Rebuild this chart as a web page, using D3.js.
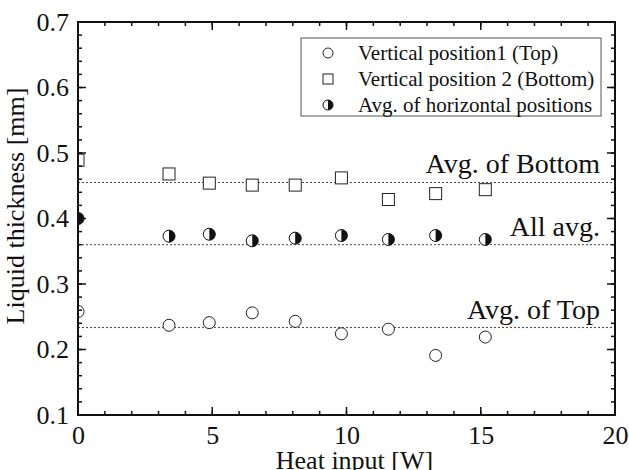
<!DOCTYPE html>
<html>
<head>
<meta charset="utf-8">
<script src="https://cdn.jsdelivr.net/npm/d3@7"></script>
<style>
  body { margin: 0; background: #fff; }
  svg text { font-family: "Liberation Serif", "Times New Roman", "DejaVu Serif", serif; }
</style>
</head>
<body>
<svg width="629" height="470"></svg>
<script>
// heat input [W]
var heat = [0, 3.39, 4.89, 6.49, 8.09, 9.81, 11.56, 13.32, 15.17];
// liquid thickness [mm]
var topVals = [0.258, 0.237, 0.241, 0.256, 0.243, 0.224, 0.231, 0.191, 0.219];
var bottomVals = [0.489, 0.468, 0.454, 0.451, 0.451, 0.462, 0.429, 0.438, 0.444];
var horizVals = [0.400, 0.373, 0.376, 0.366, 0.370, 0.374, 0.368, 0.374, 0.368];
// average lines
var avgNames = ["Avg. of Bottom", "All avg.", "Avg. of Top"];
var avgVals = [0.455, 0.36, 0.2335];
var legendNames = ["Vertical position1 (Top)", "Vertical position 2 (Bottom)", "Avg. of horizontal positions"];
var xTicks = [0, 5, 10, 15, 20];
var yTicks = [0.1, 0.2, 0.3, 0.4, 0.5, 0.6, 0.7];

var serif = "'Liberation Serif', 'Times New Roman', serif";
var margin = {left: 78, right: 14, top: 22, bottom: 55};
var width = 629 - margin.left - margin.right,
    height = 470 - margin.top - margin.bottom;

var svg = d3.select("svg");
var g = svg.append("g")
  .attr("transform", "translate(" + margin.left + "," + margin.top + ")");

var x = d3.scaleLinear().domain([0, 20]).range([0, width]);
var y = d3.scaleLinear().domain([0.1, 0.7]).range([height, 0]);

g.append("clipPath").attr("id", "clip")
  .append("rect").attr("width", width).attr("height", height);

// dotted average lines
g.selectAll(".avg")
  .data(avgVals)
  .enter().append("line")
  .attr("x1", 0).attr("x2", width)
  .attr("y1", d => y(d)).attr("y2", d => y(d))
  .attr("stroke", "#444")
  .attr("stroke-width", 1)
  .attr("stroke-dasharray", "2,2");

g.selectAll(".avgLabel")
  .data(avgNames)
  .enter().append("text")
  .attr("x", width - 15)
  .attr("y", (d, i) => y(avgVals[i]) - 9)
  .attr("text-anchor", "end")
  .attr("font-family", serif)
  .attr("font-size", "28px")
  .attr("fill", "#111")
  .text(d => d);

var pts = g.append("g").attr("clip-path", "url(#clip)");
var r = 6;

// Top: open circles
pts.selectAll(".top")
  .data(heat)
  .enter().append("circle")
  .attr("cx", d => x(d))
  .attr("cy", (d, i) => y(topVals[i]))
  .attr("r", r)
  .attr("fill", "#fff")
  .attr("stroke", "#222")
  .attr("stroke-width", 1);

// Bottom: open squares
pts.selectAll(".bot")
  .data(heat)
  .enter().append("rect")
  .attr("x", d => x(d) - r)
  .attr("y", (d, i) => y(bottomVals[i]) - r)
  .attr("width", 2 * r)
  .attr("height", 2 * r)
  .attr("fill", "#fff")
  .attr("stroke", "#222")
  .attr("stroke-width", 1);

// horizontal avg: half filled circles (right half black)
function halfCircle(sel, cx, cy, rr) {
  sel.append("circle").attr("cx", cx).attr("cy", cy).attr("r", rr)
    .attr("fill", "#fff").attr("stroke", "#111").attr("stroke-width", 1);
  sel.append("path")
    .attr("d", "M" + cx + "," + (cy - rr) + " A" + rr + "," + rr + " 0 0,1 " + cx + "," + (cy + rr) + " Z")
    .attr("fill", "#111");
}
heat.forEach(function(d, i) {
  halfCircle(pts.append("g"), x(d), y(horizVals[i]), r);
});

// ticks on all four sides, inward
var xMinor = d3.range(0, 21, 1);
var yMinor = d3.range(0, 31).map(i => 0.1 + i * 0.02);

function drawTicks(vals, scale, isX, len) {
  vals.forEach(function(v) {
    var p = scale(v);
    if (isX) {
      g.append("line").attr("x1", p).attr("x2", p).attr("y1", height).attr("y2", height - len)
        .attr("stroke", "#111").attr("stroke-width", 1.5);
      g.append("line").attr("x1", p).attr("x2", p).attr("y1", 0).attr("y2", len)
        .attr("stroke", "#111").attr("stroke-width", 1.5);
    } else {
      g.append("line").attr("y1", p).attr("y2", p).attr("x1", 0).attr("x2", len)
        .attr("stroke", "#111").attr("stroke-width", 1.5);
      g.append("line").attr("y1", p).attr("y2", p).attr("x1", width).attr("x2", width - len)
        .attr("stroke", "#111").attr("stroke-width", 1.5);
    }
  });
}
drawTicks(xMinor, x, true, 4);
drawTicks(xTicks, x, true, 8);
drawTicks(yMinor, y, false, 4);
drawTicks(yTicks, y, false, 8);

g.append("rect")
  .attr("width", width).attr("height", height)
  .attr("fill", "none").attr("stroke", "#111").attr("stroke-width", 2);

var xAxis = d3.axisBottom(x).tickValues(xTicks).tickSize(0).tickPadding(11).tickFormat(d3.format("d"));
var gx = g.append("g").attr("transform", "translate(0," + height + ")").call(xAxis);
gx.attr("font-family", serif);
gx.select(".domain").remove();
gx.selectAll("text").attr("font-size", "26px").attr("font-family", serif).attr("fill", "#111");

var yAxis = d3.axisLeft(y).tickValues(yTicks).tickSize(0).tickPadding(9).tickFormat(d3.format(".1f"));
var gy = g.append("g").call(yAxis);
gy.attr("font-family", serif);
gy.select(".domain").remove();
gy.selectAll("text").attr("font-size", "26px").attr("font-family", serif).attr("fill", "#111");

// axis titles
svg.append("text")
  .attr("x", margin.left + width / 2 + 8)
  .attr("y", 469)
  .attr("text-anchor", "middle")
  .attr("font-family", serif)
  .attr("font-size", "26px")
  .attr("fill", "#111")
  .text("Heat input [W]");

svg.append("text")
  .attr("transform", "translate(24," + 206 + ")rotate(-90)")
  .attr("text-anchor", "middle")
  .attr("font-family", serif)
  .attr("font-size", "26px")
  .attr("fill", "#111")
  .text("Liquid thickness [mm]");

// legend
var lg = svg.append("g").attr("transform", "translate(301,38)");
lg.append("rect").attr("width", 300).attr("height", 78)
  .attr("fill", "#fff").attr("stroke", "#555").attr("stroke-width", 1);
var rowY = [15, 41, 67];
lg.selectAll(".lt")
  .data(legendNames)
  .enter().append("text")
  .attr("x", 57)
  .attr("y", (d, i) => rowY[i] + 7)
  .attr("font-family", serif)
  .attr("font-size", "21px")
  .attr("fill", "#111")
  .text(d => d);
var lr = 5;
lg.append("circle").attr("cx", 27).attr("cy", rowY[0]).attr("r", lr)
  .attr("fill", "#fff").attr("stroke", "#222");
lg.append("rect").attr("x", 27 - lr).attr("y", rowY[1] - lr).attr("width", 2 * lr).attr("height", 2 * lr)
  .attr("fill", "#fff").attr("stroke", "#222");
halfCircle(lg.append("g"), 27, rowY[2], lr);
</script>
</body>
</html>
